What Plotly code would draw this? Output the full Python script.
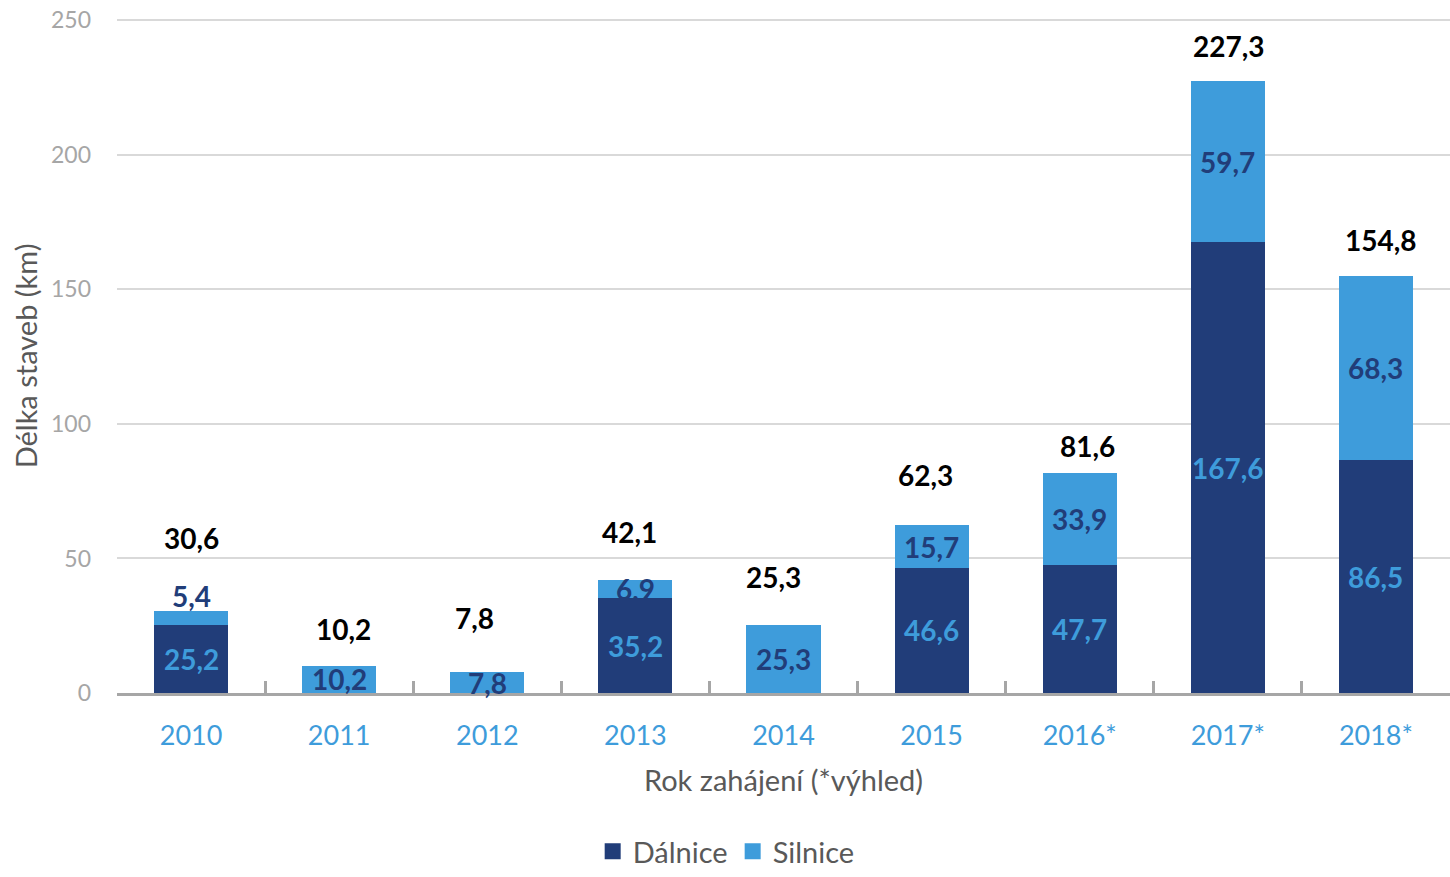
import plotly.graph_objects as go

years = ["2010", "2011", "2012", "2013", "2014", "2015", "2016*", "2017*", "2018*"]
dalnice = [25.2, 0, 0, 35.2, 0, 46.6, 47.7, 167.6, 86.5]
silnice = [5.4, 10.2, 7.8, 6.9, 25.3, 15.7, 33.9, 59.7, 68.3]

# hand placement of the total labels above each bar (pixels)
total_yshift = [73, 37, 54, 48, 48, 50, 27, 35, 36]
total_xshift = [0, 4, -13, -6, -10, -6, 8, 1, 5]

NAVY = "#213D79"
BLUE = "#3E9CDB"
FONT = "Lato, 'Open Sans', sans-serif"


def cz(v):
    return f"{v:.1f}".replace(".", ",")


fig = go.Figure()
fig.add_trace(go.Bar(x=years, y=dalnice, name="Dálnice", marker_color=NAVY,
                     marker_line_width=0, showlegend=False))
fig.add_trace(go.Bar(x=years, y=silnice, name="Silnice", marker_color=BLUE,
                     marker_line_width=0, showlegend=False))
# legend entries with bigger square swatches
for name, col in [("Dálnice", NAVY), ("Silnice", BLUE)]:
    fig.add_trace(go.Scatter(x=[None], y=[None], mode="markers", name=name,
                             marker=dict(symbol="square", size=18, color=col)))

# on a category axis, annotations use the category index
for i, yr in enumerate(years):
    d, s = dalnice[i], silnice[i]
    if d > 0:
        fig.add_annotation(x=i, y=d / 2, text=f"<b>{cz(d)}</b>", showarrow=False,
                           font=dict(size=28, color=BLUE, family=FONT))
    if s > 0:
        shift = 22 if s / (d + s) < 0.2 and s < 6 else 0
        fig.add_annotation(x=i, y=d + s / 2, yshift=shift, text=f"<b>{cz(s)}</b>",
                           showarrow=False,
                           font=dict(size=28, color=NAVY, family=FONT))
    fig.add_annotation(x=i, y=d + s, yshift=total_yshift[i], xshift=total_xshift[i],
                       text=f"<b>{cz(d + s)}</b>", showarrow=False,
                       font=dict(size=28, color="black", family=FONT))

fig.update_layout(
    barmode="stack",
    bargap=0.5,
    width=1450, height=877,
    margin=dict(l=117, r=0, t=19, b=180),
    plot_bgcolor="white", paper_bgcolor="white",
    font=dict(family=FONT, color="#595959"),
    legend=dict(orientation="h", x=0.457, xanchor="center", y=-0.236, yanchor="middle",
                font=dict(size=29, color="#595959"), traceorder="normal"),
    showlegend=True,
)

fig.update_xaxes(
    type="category", automargin=False,
    showline=True, linecolor="#A6A6A6", linewidth=3,
    ticks="inside", tickson="boundaries", ticklen=12, tickwidth=3, tickcolor="#A6A6A6",
    tickfont=dict(size=27, color=BLUE),
    tickangle=0,
    ticklabelstandoff=17,
    title=dict(text="Rok zahájení (*výhled)", font=dict(size=29, color="#595959"), standoff=21),
)
fig.update_yaxes(
    range=[0, 250.5], tickvals=[0, 50, 100, 150, 200, 250], automargin=False,
    showgrid=True, gridcolor="#D9D9D9", gridwidth=2,
    zeroline=False, showline=False,
    tickfont=dict(size=23, color="#A6A6A6"),
    ticklabelstandoff=25,
    title=dict(text="Délka staveb (km)", font=dict(size=29, color="#595959"), standoff=4),
)

# drop the default body margin so the figure sits at the page corner
fig.write_html("out.html", config={"displayModeBar": False},
               post_script="document.body.style.margin='0px';")
